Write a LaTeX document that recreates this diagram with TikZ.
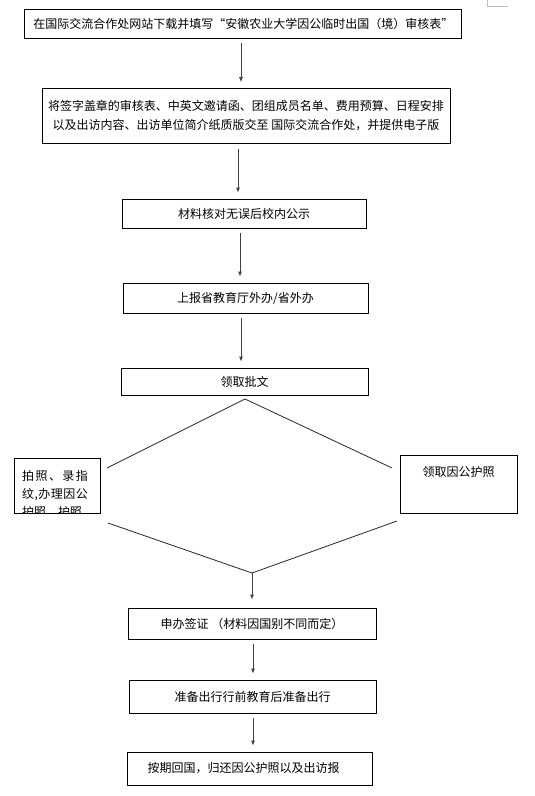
\documentclass[tikz,border=0pt]{standalone}
\usepackage{fontspec}
\setmainfont{Noto Sans CJK SC}
\usetikzlibrary{arrows.meta}

\begin{document}
\begin{tikzpicture}[x=1pt, y=-1pt,
        flowbox/.style={draw, line width=0.8pt, inner sep=2pt, align=center, font=\fontsize{12}{19}\selectfont},
        flowarrow/.style={draw=black!75, line width=0.8pt, -{Latex[length=5pt,width=4pt]}, shorten <=5pt, shorten >=6pt},
        flowline/.style={draw=black!85, line width=0.8pt}]
        \useasboundingbox (0,0) rectangle (535,796);

        \node (download) at (243.3,23.8)  [flowbox, minimum width=437, minimum height=28.5] {在国际交流合作处网站下载并填写“安徽农业大学因公临时出国（境）审核表”};
        \node (upload)   at (246,116)     [flowbox, minimum width=408, minimum height=55] {将签字盖章的审核表、中英文邀请函、团组成员名单、费用预算、日程安排\\以及出访内容、出访单位简介纸质版交至 国际交流合作处，并提供电子版};
        \node (check)    at (244,213.5)   [flowbox, minimum width=244, minimum height=29] {材料核对无误后校内公示};
        \node (report)   at (245.5,298)   [flowbox, minimum width=245, minimum height=30] {上报省教育厅外办/省外办};
        \node (approve)  at (244.5,381.5) [flowbox, minimum width=247, minimum height=27] {领取批文};
        \node (photo)    at (57,485.5)    [flowbox, minimum width=86, minimum height=55] {};
        \node (passport) at (458.5,484)   [flowbox, minimum width=117, minimum height=58] {};
        \node (visa)     at (252,623.5)   [flowbox, minimum width=248, minimum height=31] {申办签证 （材料因国别不同而定）};
        \node (prepare)  at (252.5,696.5) [flowbox, minimum width=247, minimum height=33] {准备出行行前教育后准备出行};
        \node (return)   at (249.5,768.5) [flowbox, minimum width=245, minimum height=33] {按期回国，归还因公护照以及出访报\hspace{12pt}};

        % text of the two side boxes
        \begin{scope}
            \clip (photo.south west) rectangle (photo.north east);
            \node (phototext) [anchor=north, align=left, inner sep=0pt, font=\fontsize{12}{18}\selectfont] at ([xshift=-2pt, yshift=-13pt]photo.north)
                {\makebox[66pt][s]{拍\hfill 照\hfill 、\hfill 录\hfill 指}\\
                 \makebox[66pt][s]{纹\hfill ,\hfill 办\hfill 理\hfill 因\hfill 公}\\
                 护照、护照};
        \end{scope}
        \node (passtext) at ([yshift=-17pt]passport.north) [font=\fontsize{12}{18}\selectfont] {领取因公护照};

        % branches
        \coordinate (splittop)   at (245,399);
        \coordinate (splitleft)  at (107,468);
        \coordinate (splitright) at (392,468);
        \coordinate (joinleft)   at (108,523);
        \coordinate (joinright)  at (397,521);
        \coordinate (joinbot)    at (252,573);
        \draw[flowline] (splitleft) -- (splittop) -- (splitright);
        \draw[flowline] (joinleft) -- (joinbot) -- (joinright);

        \draw[flowarrow] ([xshift=-2.3pt]download.south) -- ([xshift=-2.3pt]download.south |- upload.north);
        \draw[flowarrow] ([xshift=-8pt]upload.south)     -- ([xshift=-8pt]upload.south |- check.north);
        \draw[flowarrow] ([xshift=-4pt]check.south)      -- ([xshift=-4pt]check.south |- report.north);
        \draw[flowarrow] ([xshift=-4.5pt]report.south)   -- ([xshift=-4.5pt]report.south |- approve.north);
        \draw[flowarrow, shorten <=0pt, shorten >=8pt] (joinbot) -- (visa);
        \draw[flowarrow] ([xshift=1pt]visa.south)        -- ([xshift=1pt]visa.south |- prepare.north);
        \draw[flowarrow] ([xshift=0.5pt]prepare.south)   -- ([xshift=0.5pt]prepare.south |- return.north);

        % page corner mark
        \draw[black!25, line width=0.8pt] (487,0) -- (487,6.5) -- (508,6.5);
    \end{tikzpicture}
\end{document}
